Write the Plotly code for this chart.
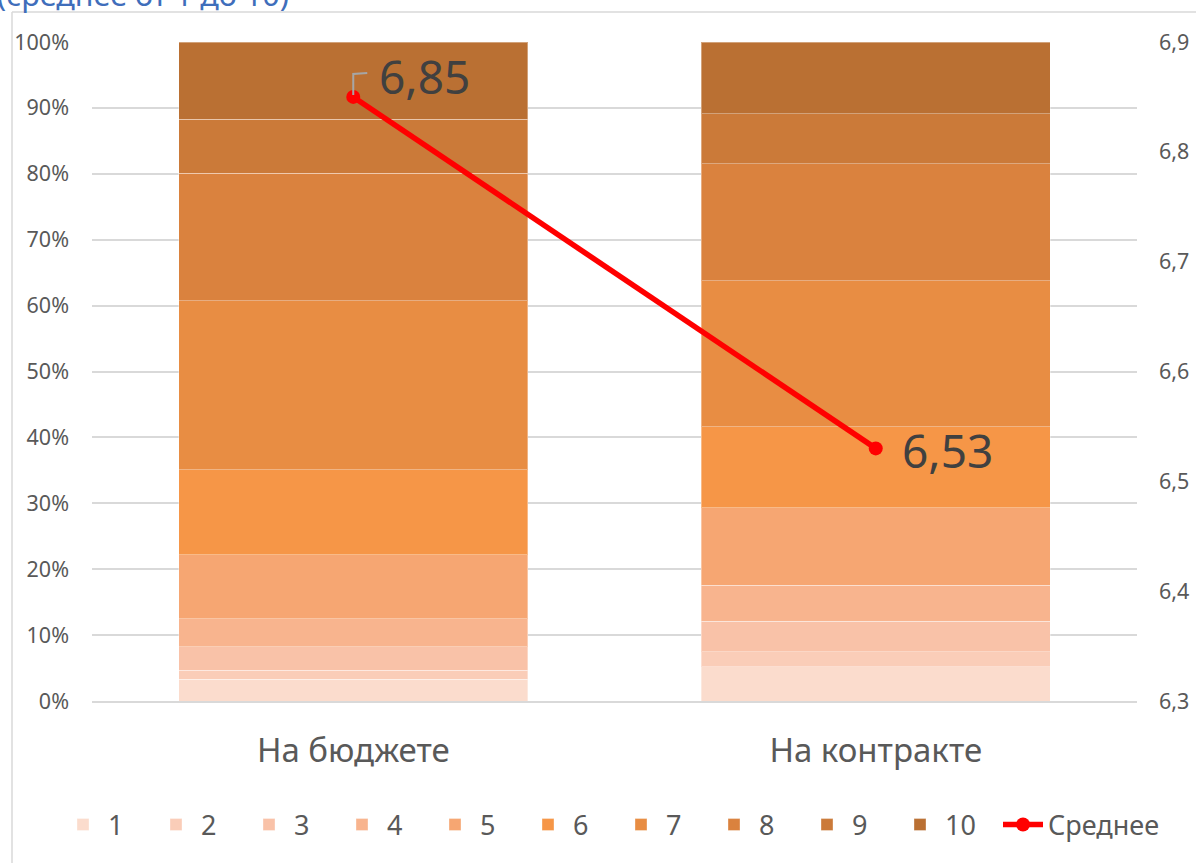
import plotly.graph_objects as go

categories = ["На бюджете", "На контракте"]
score_labels = ["1", "2", "3", "4", "5", "6", "7", "8", "9", "10"]
# share of answers (%) per score, for each group
budget = [3.3, 1.4, 3.5, 4.3, 9.7, 12.9, 25.6, 19.4, 8.2, 11.7]
contract = [5.2, 2.3, 4.6, 5.5, 11.7, 12.3, 22.2, 17.7, 7.6, 10.9]
mean_values = [6.85, 6.53]
mean_name = "Среднее"
title_text = "(среднее от 1 до 10)"

colors = ["#FBDCCD", "#FACDB8", "#F9C2A8", "#F8B48E", "#F6A672",
          "#F69647", "#E88D43", "#DA823E", "#CB7A39", "#BA7033"]

FONT = "Noto Sans"
W, H = 1196, 863
ML, MR, MT, MB = 92, 59, 42, 162
PW, PH = W - ML - MR, H - MT - MB

fig = go.Figure()
for i, lab in enumerate(score_labels):
    fig.add_trace(go.Bar(
        x=categories, y=[budget[i], contract[i]], name=lab,
        marker=dict(color=colors[i], line=dict(color="rgba(255,255,255,0.35)", width=1)),
        width=0.668, hoverinfo="skip", legend="legend",
    ))

fig.add_trace(go.Scatter(
    x=categories, y=mean_values, name=mean_name, yaxis="y2",
    mode="lines+markers",
    line=dict(color="#FF0000", width=5.5),
    marker=dict(color="#FF0000", size=14),
    legend="legend2",
))

def fmt(v):
    return f"{v:.2f}".replace(".", ",")

shifts = [(24, 21), (24, -2)]
for cat, v, (dx, dy) in zip(categories, mean_values, shifts):
    fig.add_annotation(x=cat, y=v, xref="x", yref="y2", text=fmt(v),
                       showarrow=False, xanchor="left", yanchor="middle",
                       xshift=dx, yshift=dy,
                       font=dict(family=FONT, size=46, color="#404040"))

# leader line for the first label
fig.add_shape(type="path", xref="x", yref="y2", xsizemode="pixel", ysizemode="pixel",
              xanchor=categories[0], yanchor=mean_values[0],
              path="M 0,2 L 0,23 L 14,24",
              line=dict(color="#A6A6A6", width=2))

# chart area border (left & top)
fig.add_shape(type="line", xref="paper", yref="paper",
              x0=(12 - ML) / PW, x1=(12 - ML) / PW,
              y0=-(MB + 5) / PH, y1=(PH + MT - 12) / PH,
              line=dict(color="#D9D9D9", width=1.5))
fig.add_shape(type="line", xref="paper", yref="paper",
              x0=(12 - ML) / PW, x1=(W + 5 - ML) / PW,
              y0=(PH + MT - 12) / PH, y1=(PH + MT - 12) / PH,
              line=dict(color="#D9D9D9", width=1.5))

fig.add_annotation(xref="paper", yref="paper", x=(-5 - ML) / PW, y=(PH + MT + 6) / PH,
                   text=title_text, showarrow=False, xanchor="left", yanchor="middle",
                   font=dict(family=FONT, size=30.5, color="#3F6EBB"))

legend_font = dict(size=27, color="#595959")
fig.update_layout(
    width=W, height=H,
    margin=dict(l=ML, r=MR, t=MT, b=MB, autoexpand=False),
    barmode="stack", bargap=0.332,
    plot_bgcolor="white", paper_bgcolor="white",
    separators=", ",
    font=dict(family=FONT, color="#595959"),
    xaxis=dict(showgrid=False, showline=True, linecolor="#D9D9D9", linewidth=1.5,
               tickfont=dict(size=33, color="#595959"), ticks="", ticklabelstandoff=20,
               automargin=False),
    yaxis=dict(range=[0, 100], dtick=10, ticksuffix="%", showgrid=True,
               gridcolor="#D9D9D9", gridwidth=1.5, zeroline=False,
               tickfont=dict(size=21.5, color="#595959"), ticklabelstandoff=22,
               automargin=False),
    yaxis2=dict(range=[6.3, 6.9], dtick=0.1, tickformat=".1f", overlaying="y",
                side="right", showgrid=False, zeroline=False,
                tickfont=dict(size=21.5, color="#595959"), ticklabelstandoff=21,
                automargin=False),
    legend=dict(orientation="h", xref="container", x=58 / W, xanchor="left",
                yref="container", y=(H - 825) / H, yanchor="middle",
                font=legend_font, traceorder="normal",
                itemwidth=40, entrywidth=38, entrywidthmode="pixels", tracegroupgap=0),
    legend2=dict(orientation="h", xref="container", x=998 / W, xanchor="left",
                 yref="container", y=(H - 825) / H, yanchor="middle",
                 font=legend_font, itemwidth=40),
    showlegend=True,
)

fig.write_html("out.html", config={"displayModeBar": False},
               post_script="document.body.style.margin='0';document.body.style.overflow='hidden';")
